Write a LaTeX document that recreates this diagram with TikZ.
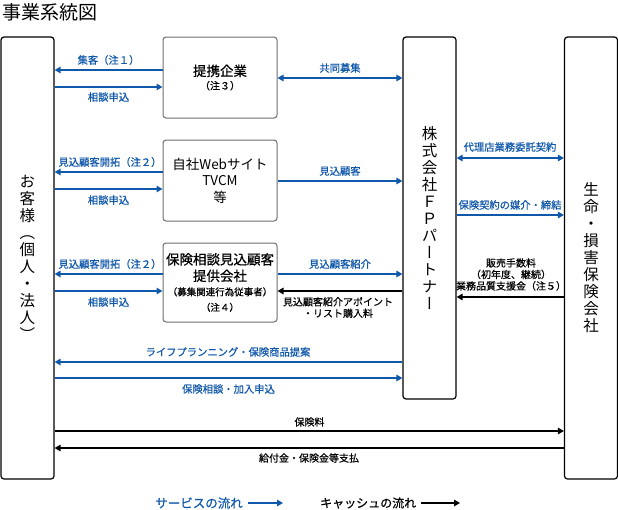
\documentclass[tikz,border=0pt]{standalone}
\usepackage{fontspec}
\setmainfont{Noto Sans CJK JP}
\newfontfamily\vjp[RawFeature=+vert]{Noto Sans CJK JP}
\newfontfamily\mjp[FakeBold=0.6]{Noto Sans CJK JP}
\usetikzlibrary{arrows.meta}
\definecolor{svcblue}{RGB}{16,88,170}
\definecolor{boxgray}{RGB}{110,110,110}
\tikzset{
  bigbox/.style={draw=black, line width=1.2pt, rounded corners=3pt, minimum width=53pt, inner sep=0pt, align=center, font=\vjp\fontsize{15.5}{17}\selectfont},
  midbox/.style={draw=boxgray, line width=1pt, rounded corners=3pt, fill=white, minimum width=114pt, minimum height=81pt, inner sep=0pt, align=center, font=\fontsize{13.5}{16.5}\selectfont},
  tip/.tip={Triangle[length=6pt,width=6.5pt]},
  svc/.style={draw=svcblue, line width=1.4pt, -tip},
  svcboth/.style={draw=svcblue, line width=1.4pt, tip-tip},
  cash/.style={draw=black, line width=1.2pt, -tip},
  lbl/.style={text=svcblue, font=\mjp\fontsize{10.3}{11.5}\selectfont, inner sep=0pt, align=center},
  lblk/.style={text=black, font=\mjp\fontsize{10}{11.5}\selectfont, inner sep=0pt, align=center},
}
\begin{document}
\begin{tikzpicture}[x=1pt,y=-1pt]
\useasboundingbox (0,0) rectangle (618,509);
% title
\node[anchor=west, inner sep=0pt, font=\fontsize{19}{21}\selectfont] (title) at (2,12) {事業系統図};
% big boxes
\node[bigbox, minimum height=442pt] (cust) at (27.5,258) {お\\客\\様\\（\\個\\人\\・\\法\\人\\）};
\node[bigbox, minimum height=362pt] (fp) at (429.5,218) {株\\式\\会\\社\\Ｆ\\Ｐ\\パ\\ー\\ト\\ナ\\ー};
\node[bigbox, minimum height=442pt] (ins) at (591,258) {生\\命\\・\\損\\害\\保\\険\\会\\社};
% middle boxes
\node[midbox] (b1) at (220,77.5) {{\mjp 提携企業}\\[-3pt]{\mjp\fontsize{10}{12}\selectfont （注３）}};
\node[midbox] (b2) at (220,180.5) {自社Webサイト\\TVCM\\等};
\node[midbox, minimum height=79pt] (b3) at (220,282.5) {{\mjp 保険相談見込顧客}\\{\mjp 提供会社}\\[-2pt]{\mjp\fontsize{9.5}{13}\selectfont （募集関連行為従事者）}\\[-1pt]{\mjp\fontsize{9.5}{13}\selectfont （注４）}};
% levels
\coordinate (y1a) at (0,70);
\coordinate (y1b) at (0,87);
\coordinate (y1c) at (0,78);
\coordinate (y2a) at (0,172);
\coordinate (y2b) at (0,189);
\coordinate (y2c) at (0,181);
\coordinate (y3a) at (0,274);
\coordinate (y3b) at (0,291);
\coordinate (r1) at (0,158);
\coordinate (r2) at (0,215);
\coordinate (r3) at (0,297);
\coordinate (l1) at (0,362);
\coordinate (l2) at (0,378);
\coordinate (c1) at (0,431);
\coordinate (c2) at (0,448);
% row 1
\draw[svc] (b1.west |- y1a) -- (cust.east |- y1a);
\draw[svc] (cust.east |- y1b) -- (b1.west |- y1b);
\draw[svcboth] (b1.east |- y1c) -- (fp.west |- y1c);
\node[lbl] (t1) at (108.5,60) {集客（注１）};
\node[lbl] (t2) at (108.5,97) {相談申込};
\node[lbl] (t3) at (340,68) {共同募集};
% row 2
\draw[svc] (b2.west |- y2a) -- (cust.east |- y2a);
\draw[svc] (cust.east |- y2b) -- (b2.west |- y2b);
\draw[svc] (b2.east |- y2c) -- (fp.west |- y2c);
\node[lbl] (t4) at (110,162) {見込顧客開拓（注２）};
\node[lbl] (t5) at (108.5,200) {相談申込};
\node[lbl] (t6) at (340,171) {見込顧客};
% row 3
\draw[svc] (b3.west |- y3a) -- (cust.east |- y3a);
\draw[svc] (cust.east |- y3b) -- (b3.west |- y3b);
\draw[svc] (b3.east |- y3a) -- (fp.west |- y3a);
\draw[cash] (fp.west |- y3b) -- (b3.east |- y3b);
\node[lbl] (t7) at (110,264) {見込顧客開拓（注２）};
\node[lbl] (t8) at (108.5,302) {相談申込};
\node[lbl] (t9) at (340,264) {見込顧客紹介};
\node[lblk] (t10) at (338,307.5) {見込顧客紹介アポイント\\・リスト購入料};
% right side
\draw[svcboth] (fp.east |- r1) -- (ins.west |- r1);
\draw[svc] (fp.east |- r2) -- (ins.west |- r2);
\draw[cash] (ins.west |- r3) -- (fp.east |- r3);
\node[lbl] (t11) at (510,147) {代理店業務委託契約};
\node[lbl] (t12) at (510,205) {保険契約の媒介・締結};
\node[lblk] (t13) at (511,274.5) {販売手数料\\（初年度、継続）\\業務品質支援金（注５）};
% bottom
\draw[svc] (fp.west |- l1) -- (cust.east |- l1);
\draw[svc] (cust.east |- l2) -- (fp.west |- l2);
\node[lbl] (t14) at (228,352) {ライフプランニング・保険商品提案};
\node[lbl] (t15) at (228.5,389) {保険相談・加入申込};
\draw[cash] (cust.east |- c1) -- (ins.west |- c1);
\draw[cash] (ins.west |- c2) -- (cust.east |- c2);
\node[lblk] (t16) at (309.5,422) {保険料};
\node[lblk] (t17) at (309,458) {給付金・保険金等支払};
% legend
\node[anchor=east, inner sep=0pt, text=svcblue, font=\mjp\fontsize{12.5}{14}\selectfont] (lg1) at (243,503) {サービスの流れ};
\node[anchor=west, inner sep=0pt, font=\mjp\fontsize{12}{14}\selectfont] (lg2) at (320,503) {キャッシュの流れ};
\coordinate (lg1e) at (283,503);
\coordinate (lg2e) at (460,503);
\draw[svc, line width=1.2pt] ([xshift=5pt]lg1.east) -- (lg1e);
\draw[cash] ([xshift=5pt]lg2.east) -- (lg2e);
\end{tikzpicture}
\end{document}
